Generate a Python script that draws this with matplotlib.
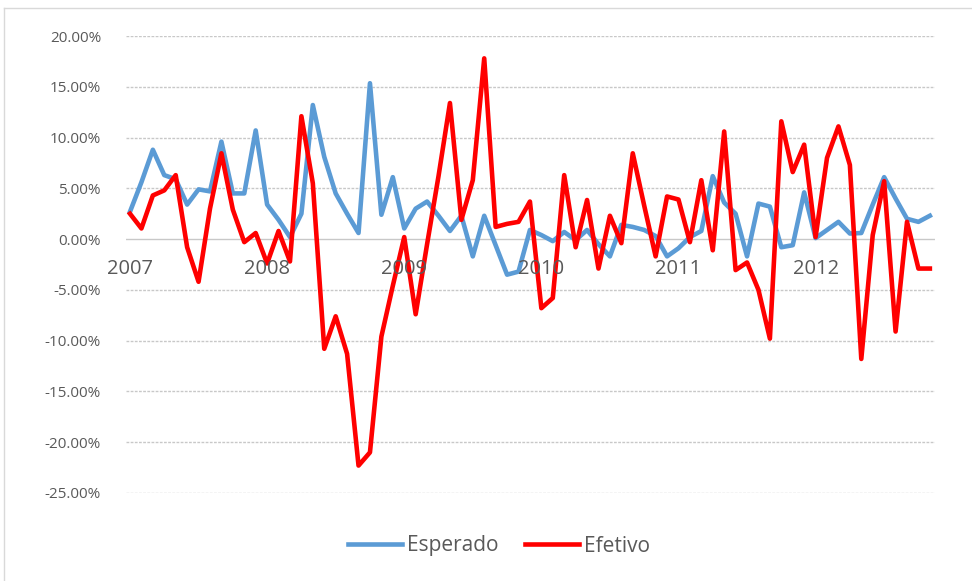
import matplotlib
matplotlib.use("Agg")
import matplotlib.pyplot as plt
from matplotlib.lines import Line2D

# monthly returns (%), Jan 2007 .. Nov 2012
esperado = [2.7, 5.6, 8.8, 6.3, 5.9, 3.4, 4.9, 4.7, 9.6, 4.5, 4.5, 10.7,
            3.4, 1.9, 0.2, 2.5, 13.2, 8.1, 4.5, 2.5, 0.6, 15.35, 2.4, 6.1,
            1.05, 3.0, 3.7, 2.3, 0.8, 2.3, -1.7, 2.3, -0.6, -3.5, -3.2, 0.9,
            0.4, -0.2, 0.7, -0.1, 0.9, -0.5, -1.7, 1.4, 1.2, 0.9, 0.3, -1.7,
            -0.9, 0.2, 0.8, 6.2, 3.6, 2.5, -1.7, 3.5, 3.2, -0.8, -0.6, 4.6,
            0.1, 0.9, 1.7, 0.55, 0.6, 3.4, 6.1, 4.0, 2.0, 1.7, 2.3]
efetivo = [2.5, 1.05, 4.3, 4.8, 6.3, -0.8, -4.2, 3.0, 8.45, 2.9, -0.3, 0.6,
           -2.4, 0.8, -2.2, 12.1, 5.5, -10.8, -7.6, -11.3, -22.3, -21.0, -9.6, -4.6,
           0.2, -7.4, -0.5, 6.2, 13.4, 1.9, 5.8, 17.8, 1.2, 1.5, 1.7, 3.7,
           -6.8, -5.8, 6.3, -0.8, 3.85, -2.9, 2.3, -0.4, 8.45, 3.3, -1.7, 4.2,
           3.9, -0.3, 5.8, -1.1, 10.6, -3.05, -2.3, -5.0, -9.8, 11.6, 6.6, 9.3,
           0.2, 8.0, 11.1, 7.3, -11.8, 0.4, 5.7, -9.1, 1.7, -2.9, -2.9]
years = ["2007", "2008", "2009", "2010", "2011", "2012"]
yticks = [20, 15, 10, 5, 0, -5, -10, -15, -20, -25]

plt.rcParams['font.family'] = ['Open Sans', 'DejaVu Sans']
txt_color = "#595959"

fig = plt.figure(figsize=(9.72, 5.81), dpi=100)
ax = fig.add_axes([126 / 972, 1 - 493 / 581, (935 - 126) / 972, (493 - 36) / 581])

x = list(range(len(esperado)))
ax.plot(x, esperado, color="#5B9BD5", lw=3.3, label="Esperado", solid_joinstyle="round")
ax.plot(x, efetivo, color="#FF0000", lw=3.3, label="Efetivo", solid_joinstyle="round")

ax.set_xlim(-0.35, 70.45)
ax.set_ylim(-25, 20)
ax.set_yticks(yticks)
ax.set_yticklabels([f"{v:.2f}%" for v in yticks], color=txt_color, fontsize=11)
ax.tick_params(axis="y", length=0, pad=18)
ax.set_xticks([])

# gridlines
for v in yticks:
    if v == 0:
        ax.axhline(v, color="#c8c8c8", lw=1, zorder=0)
    else:
        ax.axhline(v, color="#c8c8c8", lw=1, ls=(0, (2, 1)), zorder=0)

for s in ax.spines.values():
    s.set_visible(False)

# year labels next to the zero line
for k, yr in enumerate(years):
    ax.annotate(yr, xy=(12 * k, 0), xytext=(0, -20), textcoords="offset pixels",
                ha="center", va="top", fontsize=14.5, color=txt_color)

handles = [Line2D([], [], color="#5B9BD5", lw=3.3), Line2D([], [], color="#FF0000", lw=3.3)]
fig.legend(handles, ["Esperado", "Efetivo"], loc="center",
           bbox_to_anchor=(499 / 972, 1 - 546 / 581), ncol=2, frameon=False,
           fontsize=15, labelcolor=txt_color, handlelength=2.6, handletextpad=0.25,
           columnspacing=1.25)

# chart frame (top and left edges visible)
fig.add_artist(Line2D([4 / 972, 1], [1 - 8 / 581, 1 - 8 / 581], color="#d9d9d9", lw=1))
fig.add_artist(Line2D([4 / 972, 4 / 972], [0, 1 - 8 / 581], color="#d9d9d9", lw=1))

fig.savefig("out.png", dpi=100)
